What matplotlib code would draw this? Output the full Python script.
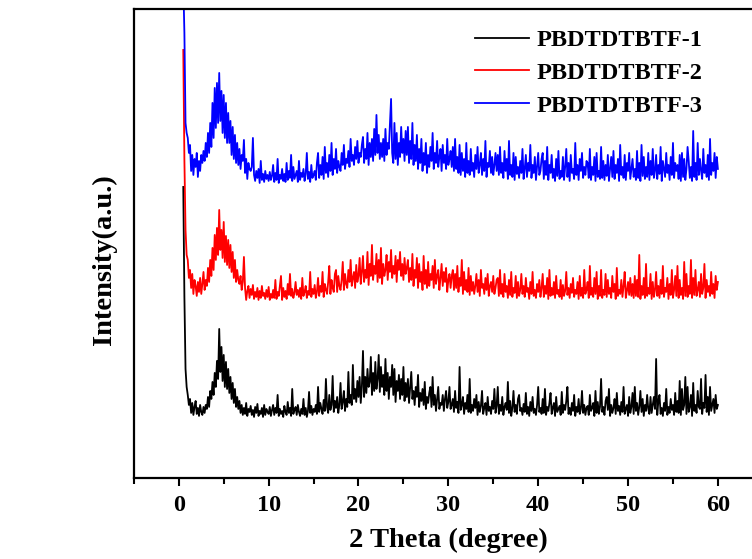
import numpy as np
import matplotlib.pyplot as plt
from matplotlib.ticker import MultipleLocator

plt.rcParams['font.family'] = ['Liberation Serif', 'DejaVu Serif']
plt.rcParams['font.weight'] = 'bold'

# intensities (a.u.), one value every 0.125 degree from 0.5 to 60
pb1 = [230, 120, 48, 30, 22, 12, 18, 4, 14, 2, 10, 16, 3, 9, 1, 12, 5, 2, 10, 4, 12, 8, 20, 10, 26, 18, 35, 22, 44, 30, 56, 38, 88, 45, 70, 36, 62, 30, 55, 28,
       48, 24, 40, 18, 34, 14, 28, 10, 20, 8, 16, 4, 12, 2, 9, 3, 14, 1, 8, 5, 11, 2, 7, 0, 10, 4, 13, 1, 6, 3, 9, 0, 12, 2, 8, 5, 3, 10, 1, 7,
       12, 2, 9, 4, 22, 1, 8, 3, 6, 0, 11, 5, 2, 15, 4, 9, 1, 28, 3, 7, 10, 2, 12, 5, 1, 8, 3, 18, 2, 9, 0, 6, 25, 4, 11, 2, 8, 5, 12, 3,
       30, 5, 14, 8, 3, 17, 6, 38, 10, 4, 22, 7, 12, 41, 5, 16, 9, 20, 4, 12, 34, 8, 15, 26, 6, 18, 10, 45, 14, 22, 12, 52, 18, 28, 15, 36, 20, 40, 14, 30,
       66, 20, 40, 24, 48, 30, 35, 60, 22, 44, 26, 55, 28, 38, 62, 25, 50, 30, 42, 22, 58, 26, 44, 18, 40, 30, 52, 22, 48, 15, 36, 26, 42, 18, 38, 22, 50, 16, 34, 20,
       38, 14, 30, 45, 18, 26, 12, 30, 20, 42, 10, 24, 16, 28, 12, 35, 8, 20, 14, 24, 30, 10, 40, 12, 22, 6, 18, 30, 8, 14, 12, 22, 6, 18, 26, 9, 15, 30, 8, 12,
       18, 5, 26, 9, 15, 4, 50, 7, 12, 20, 3, 14, 8, 22, 5, 38, 4, 12, 6, 18, 9, 22, 2, 15, 5, 11, 26, 3, 9, 14, 2, 20, 6, 10, 3, 16, 8, 28, 4, 11,
       30, 3, 12, 6, 20, 2, 10, 14, 7, 35, 4, 16, 1, 9, 26, 5, 12, 3, 18, 22, 6, 9, 2, 13, 5, 24, 3, 10, 1, 15, 6, 20, 4, 8, 2, 12, 30, 5, 9, 3,
       18, 4, 28, 2, 10, 6, 14, 24, 3, 9, 14, 1, 20, 5, 8, 11, 2, 25, 4, 12, 7, 16, 30, 3, 9, 2, 14, 6, 22, 1, 10, 5, 18, 3, 8, 26, 4, 12, 2, 9,
       11, 2, 22, 6, 9, 14, 1, 26, 4, 15, 3, 10, 38, 5, 10, 2, 16, 20, 7, 28, 1, 12, 4, 9, 18, 3, 24, 6, 11, 2, 15, 5, 30, 3, 8, 12, 1, 20, 4, 10,
       24, 3, 30, 6, 14, 2, 10, 26, 5, 18, 1, 12, 6, 22, 8, 3, 20, 4, 12, 20, 8, 58, 2, 16, 22, 3, 9, 1, 14, 6, 28, 2, 10, 4, 18, 7, 12, 2, 24, 5,
       16, 4, 36, 2, 28, 7, 12, 40, 3, 30, 5, 10, 22, 1, 34, 6, 12, 4, 26, 10, 8, 38, 3, 14, 9, 42, 5, 20, 2, 30, 6, 12, 18, 4, 22, 8, 12]

pb2 = [250, 140, 70, 45, 40, 22, 30, 12, 26, 6, 20, 14, 4, 18, 8, 22, 6, 16, 28, 10, 20, 14, 32, 18, 40, 24, 52, 30, 65, 40, 72, 45, 90, 50, 70, 42, 78, 38, 64, 35,
       60, 32, 55, 28, 48, 22, 40, 18, 30, 20, 16, 24, 10, 18, 43, 12, 0, 9, 14, 2, 11, 5, 15, 1, 8, 3, 12, 0, 9, 2, 14, 4, 7, 1, 10, 3, 13, 0, 6, 2,
       10, 2, 20, 1, 8, 4, 14, 24, 0, 12, 3, 9, 1, 16, 5, 26, 4, 11, 2, 7, 18, 5, 10, 3, 12, 1, 22, 4, 8, 14, 2, 9, 5, 28, 3, 11, 6, 15, 2, 8,
       22, 4, 14, 8, 28, 3, 16, 10, 6, 18, 34, 6, 20, 12, 8, 26, 30, 8, 24, 14, 10, 20, 38, 10, 26, 16, 12, 30, 18, 40, 14, 22, 28, 12, 35, 18, 24, 42, 16, 28,
       44, 18, 30, 22, 48, 15, 36, 24, 55, 20, 34, 26, 46, 18, 40, 22, 52, 16, 36, 24, 30, 45, 20, 38, 28, 50, 22, 34, 26, 44, 18, 40, 30, 48, 24, 36, 20, 42, 26, 32,
       40, 18, 32, 20, 46, 14, 30, 22, 42, 12, 36, 18, 28, 10, 44, 16, 30, 12, 38, 14, 26, 20, 34, 12, 40, 16, 24, 30, 10, 22, 36, 14, 28, 18, 32, 8, 20, 26, 12, 24,
       30, 10, 26, 12, 34, 8, 22, 14, 40, 6, 28, 10, 20, 8, 32, 5, 24, 9, 18, 6, 14, 26, 8, 20, 4, 30, 12, 16, 6, 22, 10, 26, 4, 14, 18, 8, 24, 6, 12, 20,
       22, 4, 30, 6, 16, 3, 26, 8, 14, 2, 20, 5, 28, 3, 12, 7, 24, 2, 18, 4, 10, 26, 6, 14, 3, 22, 8, 12, 1, 18, 6, 28, 4, 10, 2, 16, 8, 20, 3, 12,
       26, 3, 14, 6, 22, 1, 30, 4, 12, 5, 18, 2, 24, 6, 10, 3, 20, 1, 15, 4, 9, 28, 5, 12, 2, 16, 7, 22, 3, 10, 6, 18, 1, 24, 4, 12, 2, 30, 6, 10,
       18, 2, 34, 5, 12, 3, 22, 6, 28, 1, 14, 4, 30, 2, 10, 5, 26, 3, 20, 6, 12, 2, 24, 8, 16, 1, 32, 4, 10, 6, 20, 3, 14, 28, 2, 9, 18, 5, 22, 4,
       16, 2, 24, 4, 20, 3, 45, 1, 14, 5, 22, 2, 36, 4, 12, 6, 26, 1, 18, 3, 10, 28, 4, 14, 2, 20, 6, 34, 3, 12, 8, 22, 1, 16, 5, 30, 2, 10, 24, 4,
       34, 2, 20, 5, 12, 1, 38, 4, 26, 3, 14, 6, 40, 2, 22, 5, 30, 4, 10, 18, 3, 26, 6, 12, 36, 2, 20, 8, 14, 4, 28, 6, 16, 2, 24, 10, 18]

pb3 = [200, 150, 60, 50, 45, 30, 38, 12, 28, 8, 24, 16, 30, 6, 22, 12, 28, 20, 32, 22, 40, 26, 50, 30, 60, 36, 80, 45, 95, 55, 100, 60, 110, 62, 92, 50, 88, 45, 80, 40,
       70, 40, 62, 28, 56, 24, 48, 20, 40, 18, 34, 14, 28, 22, 43, 10, 24, 4, 20, 14, 12, 16, 45, 8, 2, 12, 5, 14, 0, 22, 3, 9, 1, 12, 4, 8, 2, 11, 3, 7,
       18, 1, 10, 3, 24, 0, 8, 4, 14, 2, 9, 1, 20, 3, 12, 5, 28, 2, 16, 4, 8, 12, 1, 22, 3, 10, 6, 14, 2, 9, 30, 4, 11, 1, 18, 5, 8, 12, 3, 20,
       30, 5, 18, 8, 26, 4, 36, 10, 20, 6, 28, 12, 40, 8, 24, 14, 34, 10, 22, 16, 12, 30, 18, 38, 14, 24, 20, 32, 16, 44, 22, 28, 18, 36, 24, 42, 20, 30, 26, 38,
       46, 20, 34, 24, 50, 18, 40, 26, 44, 22, 54, 28, 68, 30, 48, 24, 40, 26, 44, 22, 54, 28, 40, 34, 60, 84, 30, 20, 60, 24, 50, 18, 40, 26, 56, 30, 44, 22, 52, 28,
       56, 20, 42, 24, 60, 18, 38, 22, 48, 14, 34, 20, 44, 12, 30, 18, 40, 10, 28, 16, 36, 22, 50, 14, 30, 20, 42, 16, 26, 34, 12, 38, 20, 28, 14, 44, 18, 24, 32, 16,
       36, 12, 44, 14, 26, 10, 38, 8, 30, 12, 24, 6, 40, 10, 22, 8, 34, 12, 20, 6, 28, 14, 36, 10, 18, 30, 8, 24, 12, 42, 6, 20, 16, 32, 10, 26, 8, 18, 30, 12,
       28, 8, 36, 10, 20, 5, 32, 12, 24, 4, 42, 8, 18, 6, 30, 3, 26, 9, 16, 5, 22, 10, 34, 4, 14, 28, 6, 20, 12, 38, 5, 18, 10, 26, 3, 16, 30, 8, 12, 24,
       30, 4, 22, 8, 36, 3, 18, 10, 28, 5, 14, 2, 24, 7, 32, 4, 12, 6, 26, 3, 16, 34, 6, 20, 2, 28, 10, 14, 4, 40, 8, 18, 3, 24, 12, 30, 5, 16, 8, 22,
       20, 5, 34, 3, 16, 8, 26, 2, 30, 6, 12, 4, 36, 5, 22, 3, 18, 7, 28, 2, 14, 26, 6, 32, 4, 18, 10, 24, 2, 38, 8, 16, 5, 28, 3, 20, 12, 30, 4, 14,
       24, 6, 14, 3, 32, 5, 20, 2, 38, 7, 26, 4, 16, 6, 30, 3, 22, 8, 34, 5, 12, 28, 4, 18, 9, 36, 2, 22, 14, 6, 30, 10, 18, 3, 26, 8, 40, 5, 20, 12,
       18, 4, 28, 2, 30, 6, 24, 3, 14, 36, 22, 5, 16, 2, 52, 6, 20, 3, 40, 8, 24, 12, 4, 34, 10, 18, 6, 28, 3, 44, 8, 20, 12, 30, 5, 26, 14]

labels = ['PBDTDTBTF-1', 'PBDTDTBTF-2', 'PBDTDTBTF-3']
colors = ['black', 'red', 'blue']
offsets = [61, 178, 295]

fig = plt.figure(figsize=(7.52, 5.59), dpi=100)
ax = fig.add_axes([0.178, 0.145, 0.8364, 0.839])

for y, lab, c, off in zip([pb1, pb2, pb3], labels, colors, offsets):
    y = np.array(y, dtype=float)
    x = np.linspace(0.5, 60, len(y))
    ax.plot(x, y + off, color=c, lw=1.3, label=lab)

ax.set_xlim(-5, 65)
ax.set_ylim(0, 469)
ax.xaxis.set_major_locator(MultipleLocator(10))
ax.xaxis.set_minor_locator(MultipleLocator(5))
ax.set_yticks([])
ax.tick_params(axis='x', which='major', direction='out', length=6, width=1.5,
               labelsize=17.5, pad=6)
ax.tick_params(axis='x', which='minor', direction='out', length=4, width=1.5)
for s in ax.spines.values():
    s.set_linewidth(1.6)

ax.set_xlabel('2 Theta (degree)', fontsize=20.5, fontweight='bold', labelpad=9)
ax.set_ylabel('Intensity(a.u.)', fontsize=20.5, fontweight='bold')
ax.yaxis.set_label_coords(-0.027, 0.465)

ax.legend(loc='upper left', bbox_to_anchor=(0.542, 0.957), frameon=False,
          handlelength=2.22, handletextpad=0.33, labelspacing=0.44,
          borderpad=0, borderaxespad=0,
          prop={'weight': 'bold', 'size': 17.5})

fig.savefig('out.png', dpi=100)
